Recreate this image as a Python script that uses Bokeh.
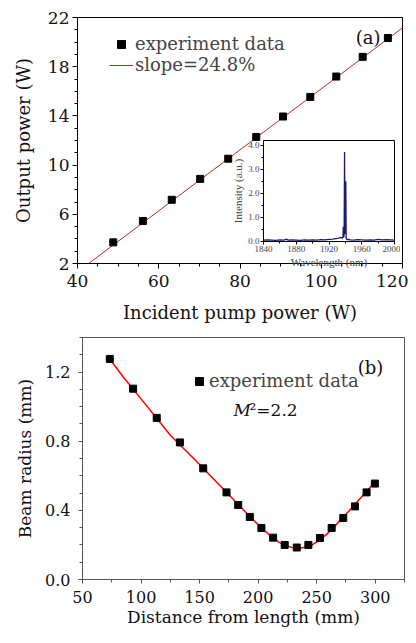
from bokeh.plotting import figure
from bokeh.models import (Legend, LegendItem, Label, FixedTicker,
                          PrintfTickFormatter, Range1d)
from bokeh.embed import file_html
from bokeh.resources import INLINE

# ---------------- data: panel (a) ----------------
pump_power = [48.8, 56.1, 63.2, 70.2, 77.1, 84.0, 90.6, 97.3, 103.7, 110.2, 116.4]
output_power = [3.72, 5.46, 7.18, 8.88, 10.52, 12.29, 13.95, 15.54, 17.2, 18.8, 20.33]
fit_pump = [40.0, 120.0]
fit_output = [1.32, 21.16]
a_xticks = [40, 60, 80, 100, 120]
a_yticks = [2, 6, 10, 14, 18, 22]

# ---------------- data: inset spectrum ----------------
wavelength = [1840, 1845, 1850, 1855, 1860, 1865, 1868, 1870, 1875, 1880, 1885, 1890,
              1895, 1900, 1905, 1910, 1915, 1920, 1925, 1928, 1930, 1932, 1934, 1936,
              1937, 1937.5, 1938, 1938.5, 1939, 1939.5, 1940, 1940.5, 1941, 1942,
              1944, 1946, 1950, 1955, 1960, 1965, 1970, 1975, 1980, 1985, 1990, 1995, 2000]
intensity = [0.04, 0.05, 0.04, 0.03, 0.05, 0.04, 0.08, 0.04, 0.05, 0.04, 0.03, 0.05,
             0.04, 0.05, 0.04, 0.06, 0.05, 0.07, 0.08, 0.10, 0.11, 0.12, 0.15, 0.12,
             0.14, 0.60, 0.15, 0.30, 3.72, 0.30, 0.40, 2.50, 0.10, 0.06,
             0.07, 0.05, 0.04, 0.06, 0.05, 0.04, 0.05, 0.04, 0.07, 0.05, 0.06, 0.05, 0.04]
inset_xticks = [1840, 1880, 1920, 1960, 2000]
inset_yticks = [0, 1, 2, 3, 4]

# ---------------- data: panel (b) ----------------
distance = [73.3, 93.2, 113.4, 133.2, 153.1, 173.0, 183.0, 192.9, 202.8, 212.8,
            222.7, 233.0, 242.9, 252.8, 262.8, 272.7, 282.7, 292.6, 299.7]
radius = [1.276, 1.104, 0.935, 0.793, 0.643, 0.504, 0.431, 0.362, 0.298, 0.242,
          0.200, 0.185, 0.200, 0.240, 0.298, 0.356, 0.423, 0.504, 0.555]
fit_distance = [75, 85, 100, 125, 150, 165, 175, 185, 195, 205, 212, 218, 224, 230,
                235, 240, 246, 252, 258, 265, 272, 280, 290, 300]
fit_radius = [1.26, 1.17, 1.045, 0.835, 0.665, 0.56, 0.49, 0.42, 0.35, 0.285, 0.245,
              0.215, 0.195, 0.183, 0.181, 0.186, 0.20, 0.225, 0.258, 0.305, 0.355,
              0.415, 0.49, 0.565]
b_xticks = [50, 100, 150, 200, 250, 300]
b_yticks = [0.0, 0.4, 0.8, 1.2]

SERIF = "DejaVu Serif"


def style_axes(p, color, tick_size, label_size):
    for ax in (p.xaxis[0], p.yaxis[0]):
        ax.axis_line_color = color
        ax.major_tick_line_color = color
        ax.minor_tick_line_color = color
        ax.major_tick_in = 0
        ax.minor_tick_in = 0
        ax.major_tick_out = 5
        ax.minor_tick_out = 3
        ax.major_label_text_font = SERIF
        ax.major_label_text_font_size = tick_size
        ax.major_label_text_color = "#111111"
        ax.axis_label_text_font = SERIF
        ax.axis_label_text_font_size = label_size
        ax.axis_label_text_font_style = "normal"
        ax.axis_label_text_color = "#111111"
    p.xgrid.visible = False
    p.ygrid.visible = False


# ---------------- panel (a) ----------------
pa = figure(width=400, height=323, output_backend="svg", toolbar_location=None,
            x_range=Range1d(40, 120), y_range=Range1d(2, 22),
            min_border_left=69, min_border_right=6, min_border_top=9, min_border_bottom=68,
            x_axis_label="Incident pump power (W)", y_axis_label="Output power (W)")
style_axes(pa, "black", "17px", "18px")
pa.outline_line_color = "black"
pa.xaxis.ticker = FixedTicker(ticks=a_xticks, minor_ticks=list(range(40, 121, 5)))
pa.yaxis.ticker = FixedTicker(ticks=a_yticks, minor_ticks=list(range(2, 23, 1)))
pa.xaxis.major_label_standoff = 6
pa.xaxis.axis_label_standoff = 12
pa.yaxis.major_label_standoff = 3
pa.yaxis.axis_label_standoff = 11

r_fit = pa.line(fit_pump, fit_output, line_color="#b22a2a", line_width=1)
r_pts = pa.scatter(pump_power, output_power, marker="square", size=7,
                   fill_color="black", line_color="black")
leg_a = Legend(items=[LegendItem(label="experiment data", renderers=[r_pts]),
                      LegendItem(label="slope=24.8%", renderers=[r_fit])],
               location=(32, 188), border_line_color=None, background_fill_alpha=0,
               padding=0, margin=0, spacing=0, glyph_width=24, glyph_height=20,
               label_height=20, label_standoff=2,
               label_text_font=SERIF, label_text_font_size="18px")
pa.add_layout(leg_a)
pa.add_layout(Label(x=108.5, y=20.4, text="(a)", text_font=SERIF, text_font_size="18px",
                    text_baseline="middle", text_color="#111111"))
pa.styles = {"position": "absolute", "left": "8px", "top": "8px"}

# ---------------- panel (b) ----------------
pb = figure(width=400, height=304, output_backend="svg", toolbar_location=None,
            x_range=Range1d(50, 325), y_range=Range1d(0, 1.4),
            min_border_left=74, min_border_right=4, min_border_top=6, min_border_bottom=56,
            x_axis_label="Distance from length (mm)", y_axis_label="Beam radius (mm)")
style_axes(pb, "#555555", "16px", "17px")
pb.outline_line_color = "#555555"
pb.xaxis.ticker = FixedTicker(ticks=b_xticks, minor_ticks=list(range(50, 326, 25)))
pb.yaxis.ticker = FixedTicker(ticks=b_yticks,
                              minor_ticks=[i / 10 for i in range(0, 15)])
pb.yaxis.formatter = PrintfTickFormatter(format="%.1f")
pb.xaxis.major_tick_out = 4
pb.yaxis.major_tick_out = 4
pb.xaxis.major_label_standoff = 7
pb.xaxis.axis_label_standoff = 1
pb.yaxis.major_label_standoff = 8
pb.yaxis.axis_label_standoff = 7

pb.line(fit_distance, fit_radius, line_color="#ff0000", line_width=1.5)
r_pts_b = pb.scatter(distance, radius, marker="square", size=7,
                     fill_color="black", line_color="black")
leg_b = Legend(items=[LegendItem(label="experiment data", renderers=[r_pts_b])],
               location=(107, 188), border_line_color=None, background_fill_alpha=0,
               padding=0, margin=0, spacing=0, glyph_width=20, glyph_height=20,
               label_height=20, label_standoff=0,
               label_text_font=SERIF, label_text_font_size="18px")
pb.add_layout(leg_b)
pb.add_layout(Label(x=179, y=0.98, text="M", text_font=SERIF, text_font_size="17px",
                    text_font_style="italic", text_baseline="middle", text_color="#111111"))
pb.add_layout(Label(x=179, y=0.98, x_offset=16, text="²=2.2", text_font=SERIF,
                    text_font_size="17px", text_baseline="middle", text_color="#111111"))
pb.add_layout(Label(x=285, y=1.225, text="(b)", text_font=SERIF, text_font_size="18px",
                    text_baseline="middle", text_color="#111111"))
pb.styles = {"position": "absolute", "left": "8px", "top": "331px"}

# ---------------- inset (drawn over panel a) ----------------
pi = figure(width=174, height=136, output_backend="svg", toolbar_location=None,
            x_range=Range1d(1840, 2000), y_range=Range1d(-0.02, 4.2),
            min_border_left=37, min_border_right=6, min_border_top=6, min_border_bottom=29,
            x_axis_label="Wavelength (nm)", y_axis_label="Intensity (a.u.)")
for ax in (pi.xaxis[0], pi.yaxis[0]):
    ax.axis_line_color = "black"
    ax.major_tick_line_color = "black"
    ax.minor_tick_line_color = "black"
    ax.major_tick_in = 0
    ax.minor_tick_in = 0
    ax.major_tick_out = 3
    ax.minor_tick_out = 2
    ax.major_label_text_font = "Liberation Serif"
    ax.major_label_text_font_size = "9px"
    ax.major_label_standoff = 1
    ax.axis_label_text_font = "Liberation Serif"
    ax.axis_label_text_font_size = "11px"
    ax.axis_label_text_font_style = "normal"
    ax.axis_label_standoff = 1
pi.xaxis.ticker = FixedTicker(ticks=inset_xticks, minor_ticks=list(range(1840, 2001, 20)))
pi.yaxis.ticker = FixedTicker(ticks=inset_yticks, minor_ticks=[0.5, 1.5, 2.5, 3.5])
pi.yaxis.formatter = PrintfTickFormatter(format="%.1f")
pi.xgrid.visible = False
pi.ygrid.visible = False
pi.outline_line_color = "black"
pi.border_fill_alpha = 0
pi.background_fill_color = "white"
pi.line(wavelength, intensity, line_color="#1a1a70", line_width=1.3)
pi.styles = {"position": "absolute", "left": "226px", "top": "134px", "z-index": "5"}

open("out.html", "w").write(file_html([pa, pb, pi], INLINE))
